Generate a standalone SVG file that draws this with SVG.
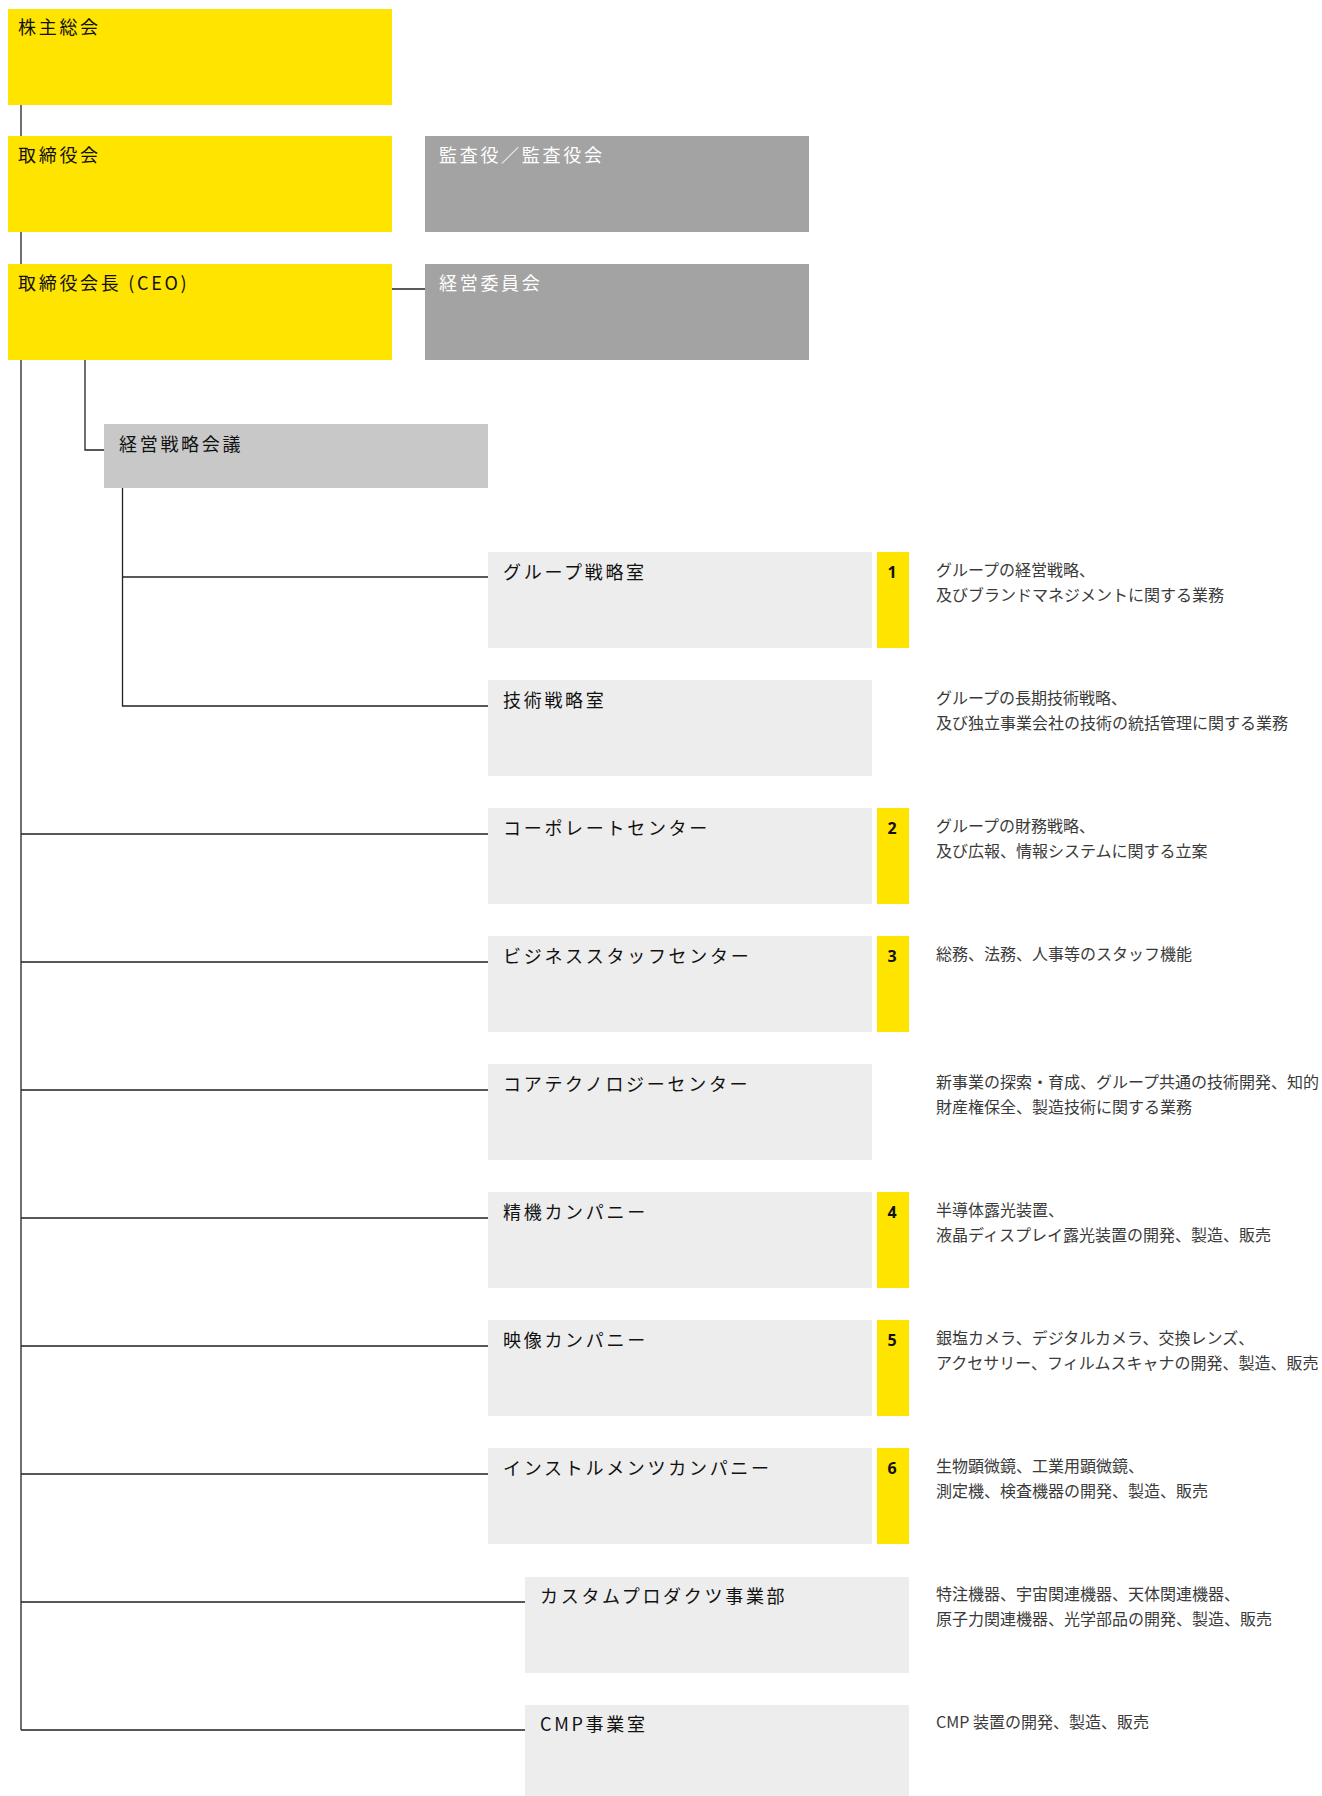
<svg xmlns="http://www.w3.org/2000/svg" width="1322" height="1796" viewBox="0 0 1322 1796">
<style>
.bg{fill:#ffffff}
.y{fill:#FFE400}
.g1{fill:#A3A3A3}
.g2{fill:#C8C8C8}
.g3{fill:#EDEDED}
.t{font-family:"Noto Sans CJK JP","Noto Sans",sans-serif;font-size:18px;letter-spacing:2.7px;fill:#111;font-weight:400}
.tw{fill:#ffffff}
.n{font-family:"Noto Sans","Liberation Sans",sans-serif;font-size:16px;font-weight:700;fill:#111;text-anchor:middle}
.d{font-family:"Noto Sans CJK JP","Noto Sans",sans-serif;font-size:16px;fill:#3a3a3a;font-weight:400}
.c{stroke:#222;stroke-width:1.3;fill:none}
</style>
<rect class="bg" width="1322" height="1796"/>
<g id="connectors">
<path class="c" d="M21,104 V1730"/>
<path class="c" d="M392,289 H425"/>
<path class="c" d="M85,360 V450 H104"/>
<path class="c" d="M122.5,488 V706 H488 M122.5,577 H488"/>
<path class="c" d="M21,834 H488 M21,962 H488 M21,1090 H488 M21,1218 H488 M21,1346 H488 M21,1474 H488 M21,1602 H525 M21,1730 H525"/>
</g>
<g id="n-kabunushi"><rect class="y" x="8" y="9" width="384" height="96"/><text class="t" x="18" y="34">株主総会</text></g>
<g id="n-torishimariyakukai"><rect class="y" x="8" y="136" width="384" height="96"/><text class="t" x="18" y="162">取締役会</text></g>
<g id="n-kansa"><rect class="g1" x="425" y="136" width="384" height="96"/><text class="t tw" x="439" y="162">監査役／監査役会</text></g>
<g id="n-ceo"><rect class="y" x="8" y="264" width="384" height="96"/><text class="t" x="18" y="290">取締役会長 (CEO)</text></g>
<g id="n-keiei-iinkai"><rect class="g1" x="425" y="264" width="384" height="96"/><text class="t tw" x="439" y="290">経営委員会</text></g>
<g id="n-senryaku-kaigi"><rect class="g2" x="104" y="424" width="384" height="64"/><text class="t" x="119" y="451">経営戦略会議</text></g>

<g id="n-group"><rect class="g3" x="488" y="552" width="384" height="96"/><text class="t" x="503" y="579">グループ戦略室</text>
<rect class="y" x="877" y="552" width="32" height="96"/><text class="n" x="892" y="578">1</text>
<text class="d" x="936" y="576">グループの経営戦略、</text><text class="d" x="936" y="601">及びブランドマネジメントに関する業務</text></g>

<g id="n-gijutsu"><rect class="g3" x="488" y="680" width="384" height="96"/><text class="t" x="503" y="707">技術戦略室</text>
<text class="d" x="936" y="704">グループの長期技術戦略、</text><text class="d" x="936" y="729">及び独立事業会社の技術の統括管理に関する業務</text></g>

<g id="n-corporate"><rect class="g3" x="488" y="808" width="384" height="96"/><text class="t" x="503" y="835">コーポレートセンター</text>
<rect class="y" x="877" y="808" width="32" height="96"/><text class="n" x="892" y="834">2</text>
<text class="d" x="936" y="832">グループの財務戦略、</text><text class="d" x="936" y="857">及び広報、情報システムに関する立案</text></g>

<g id="n-business"><rect class="g3" x="488" y="936" width="384" height="96"/><text class="t" x="503" y="963">ビジネススタッフセンター</text>
<rect class="y" x="877" y="936" width="32" height="96"/><text class="n" x="892" y="962">3</text>
<text class="d" x="936" y="960">総務、法務、人事等のスタッフ機能</text></g>

<g id="n-core"><rect class="g3" x="488" y="1064" width="384" height="96"/><text class="t" x="503" y="1091">コアテクノロジーセンター</text>
<text class="d" x="936" y="1088">新事業の探索・育成、グループ共通の技術開発、知的</text><text class="d" x="936" y="1113">財産権保全、製造技術に関する業務</text></g>

<g id="n-seiki"><rect class="g3" x="488" y="1192" width="384" height="96"/><text class="t" x="503" y="1219">精機カンパニー</text>
<rect class="y" x="877" y="1192" width="32" height="96"/><text class="n" x="892" y="1218">4</text>
<text class="d" x="936" y="1216">半導体露光装置、</text><text class="d" x="936" y="1241">液晶ディスプレイ露光装置の開発、製造、販売</text></g>

<g id="n-eizo"><rect class="g3" x="488" y="1320" width="384" height="96"/><text class="t" x="503" y="1347">映像カンパニー</text>
<rect class="y" x="877" y="1320" width="32" height="96"/><text class="n" x="892" y="1346">5</text>
<text class="d" x="936" y="1344">銀塩カメラ、デジタルカメラ、交換レンズ、</text><text class="d" x="936" y="1369">アクセサリー、フィルムスキャナの開発、製造、販売</text></g>

<g id="n-instruments"><rect class="g3" x="488" y="1448" width="384" height="96"/><text class="t" x="503" y="1475">インストルメンツカンパニー</text>
<rect class="y" x="877" y="1448" width="32" height="96"/><text class="n" x="892" y="1474">6</text>
<text class="d" x="936" y="1472">生物顕微鏡、工業用顕微鏡、</text><text class="d" x="936" y="1497">測定機、検査機器の開発、製造、販売</text></g>

<g id="n-custom"><rect class="g3" x="525" y="1577" width="384" height="96"/><text class="t" x="540" y="1603">カスタムプロダクツ事業部</text>
<text class="d" x="936" y="1600">特注機器、宇宙関連機器、天体関連機器、</text><text class="d" x="936" y="1625">原子力関連機器、光学部品の開発、製造、販売</text></g>

<g id="n-cmp"><rect class="g3" x="525" y="1705" width="384" height="96"/><text class="t" x="540" y="1731">CMP事業室</text>
<text class="d" x="936" y="1728">CMP 装置の開発、製造、販売</text></g>
</svg>
